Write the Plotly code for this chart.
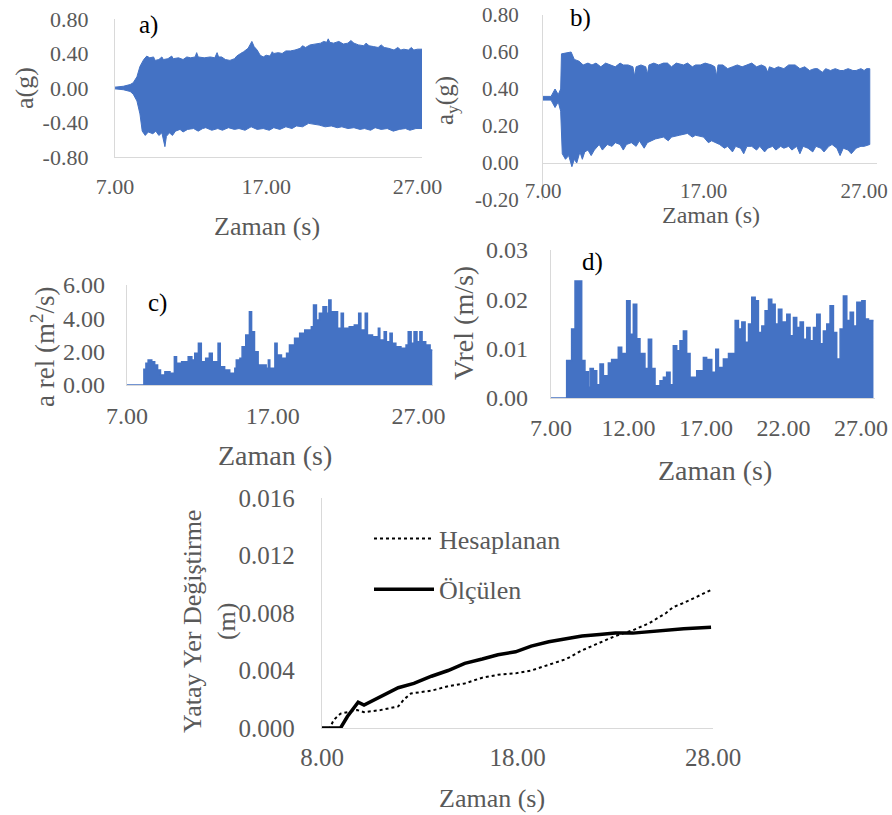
import plotly.graph_objects as go

W, H = 892, 815
BLUE = "#4472C4"
GRAY = "#595959"
AXIS = "#D9D9D9"
FONT = "Liberation Serif, Times New Roman, serif"

# ---------------- a) horizontal acceleration: upper / lower envelope (time s, g) ----------------
a_upper = [(7.0, 0.01), (7.55, 0.02), (8.0, 0.04), (8.2, 0.06), (8.45, 0.13), (8.65, 0.25),
           (8.9, 0.33), (9.1, 0.37), (9.3, 0.35), (9.55, 0.36), (9.65, 0.32), (9.9, 0.33),
           (10.1, 0.36), (10.2, 0.33), (10.5, 0.34), (10.75, 0.37), (10.85, 0.34), (11.2, 0.35),
           (11.5, 0.33), (11.75, 0.36), (12.0, 0.35), (12.3, 0.36), (12.4, 0.41), (12.5, 0.36),
           (12.9, 0.35), (13.3, 0.36), (13.6, 0.35), (13.75, 0.41), (13.85, 0.36), (14.05, 0.36),
           (14.3, 0.33), (14.6, 0.32), (14.9, 0.34), (15.05, 0.37), (15.3, 0.40), (15.5, 0.42),
           (15.8, 0.46), (15.95, 0.50), (16.05, 0.54), (16.2, 0.48), (16.4, 0.44), (16.6, 0.38),
           (16.8, 0.36), (17.0, 0.38), (17.25, 0.37), (17.4, 0.42), (17.5, 0.40), (17.8, 0.41),
           (18.05, 0.40), (18.3, 0.43), (18.6, 0.43), (18.9, 0.44), (19.25, 0.46), (19.4, 0.49),
           (19.6, 0.47), (19.9, 0.50), (20.2, 0.51), (20.6, 0.52), (20.8, 0.54), (21.0, 0.53),
           (21.1, 0.57), (21.2, 0.53), (21.45, 0.52), (21.8, 0.54), (22.1, 0.51), (22.4, 0.52),
           (22.6, 0.55), (22.8, 0.52), (23.1, 0.50), (23.45, 0.49), (23.6, 0.52), (23.8, 0.49),
           (24.1, 0.48), (24.4, 0.47), (24.6, 0.50), (24.8, 0.47), (25.1, 0.46), (25.45, 0.44),
           (25.7, 0.47), (25.9, 0.44), (26.1, 0.45), (26.4, 0.44), (26.6, 0.47), (26.75, 0.44),
           (27.0, 0.45), (27.3, 0.45)]
a_lower = [(7.0, -0.01), (7.55, -0.02), (8.0, -0.04), (8.2, -0.07), (8.45, -0.15), (8.65, -0.30),
           (8.8, -0.50), (9.0, -0.55), (9.2, -0.51), (9.5, -0.53), (9.7, -0.50), (9.9, -0.55),
           (10.1, -0.52), (10.2, -0.60), (10.3, -0.68), (10.4, -0.56), (10.6, -0.52), (10.8, -0.55),
           (11.0, -0.50), (11.3, -0.48), (11.5, -0.51), (11.8, -0.48), (12.2, -0.47), (12.5, -0.50),
           (12.8, -0.47), (13.0, -0.46), (13.4, -0.49), (13.8, -0.47), (14.1, -0.49), (14.5, -0.46),
           (14.9, -0.48), (15.2, -0.47), (15.6, -0.49), (16.0, -0.45), (16.4, -0.48), (16.8, -0.47),
           (17.2, -0.49), (17.5, -0.46), (17.9, -0.48), (18.3, -0.45), (18.7, -0.47), (19.0, -0.44),
           (19.4, -0.45), (19.8, -0.41), (20.2, -0.42), (20.5, -0.43), (20.9, -0.45), (21.3, -0.44),
           (21.7, -0.46), (22.0, -0.45), (22.4, -0.47), (22.8, -0.46), (23.2, -0.48), (23.5, -0.47),
           (23.9, -0.49), (24.2, -0.46), (24.6, -0.48), (25.0, -0.47), (25.4, -0.50), (25.8, -0.48),
           (26.2, -0.47), (26.5, -0.49), (26.9, -0.47), (27.3, -0.47)]

# ---------------- b) vertical acceleration: upper / lower envelope (time s, g) ----------------
b_upper = [(7.0, 0.36), (7.5, 0.36), (7.75, 0.40), (7.95, 0.37), (8.1, 0.40), (8.15, 0.59),
           (8.75, 0.60), (8.95, 0.56), (9.25, 0.55), (9.5, 0.53), (9.8, 0.54), (10.05, 0.53),
           (10.3, 0.54), (10.6, 0.52), (10.9, 0.54), (11.2, 0.53), (11.5, 0.52), (11.8, 0.54),
           (12.0, 0.53), (12.3, 0.53), (12.6, 0.52), (12.7, 0.47), (12.8, 0.52), (13.1, 0.53),
           (13.4, 0.52), (13.5, 0.48), (13.6, 0.53), (13.9, 0.54), (14.2, 0.53), (14.5, 0.54),
           (14.75, 0.54), (15.0, 0.52), (15.3, 0.54), (15.75, 0.53), (16.0, 0.54), (16.3, 0.52),
           (16.5, 0.53), (16.8, 0.53), (17.1, 0.54), (17.5, 0.53), (17.7, 0.52), (17.8, 0.47),
           (17.9, 0.53), (18.2, 0.53), (18.5, 0.51), (18.8, 0.52), (19.1, 0.53), (19.4, 0.52),
           (19.7, 0.53), (20.0, 0.54), (20.3, 0.52), (20.6, 0.53), (20.85, 0.52), (21.0, 0.49),
           (21.1, 0.52), (21.4, 0.51), (21.65, 0.52), (22.0, 0.51), (22.3, 0.53), (22.7, 0.53),
           (23.0, 0.51), (23.3, 0.52), (23.6, 0.50), (23.9, 0.51), (24.1, 0.51), (24.4, 0.49),
           (24.6, 0.51), (24.9, 0.50), (25.2, 0.51), (25.5, 0.50), (25.7, 0.50), (26.0, 0.51),
           (26.3, 0.50), (26.5, 0.50), (26.8, 0.51), (27.0, 0.50), (27.15, 0.51), (27.35, 0.51)]
b_lower = [(7.0, 0.34), (7.5, 0.34), (7.75, 0.30), (7.95, 0.33), (8.1, 0.28), (8.2, 0.05),
           (8.4, 0.02), (8.6, 0.04), (8.8, -0.02), (8.95, 0.02), (9.1, 0.00), (9.3, 0.06),
           (9.45, 0.02), (9.6, 0.06), (9.8, 0.07), (10.0, 0.04), (10.2, 0.07), (10.5, 0.10),
           (10.7, 0.07), (11.0, 0.10), (11.3, 0.09), (11.5, 0.11), (11.8, 0.10), (12.0, 0.07),
           (12.2, 0.10), (12.5, 0.11), (12.8, 0.09), (13.0, 0.12), (13.3, 0.08), (13.5, 0.11),
           (14.0, 0.13), (14.5, 0.14), (14.8, 0.12), (15.0, 0.14), (15.5, 0.15), (16.0, 0.16),
           (16.3, 0.14), (16.5, 0.15), (17.0, 0.14), (17.3, 0.11), (17.5, 0.12), (18.0, 0.10),
           (18.3, 0.08), (18.5, 0.09), (18.8, 0.06), (19.0, 0.09), (19.3, 0.08), (19.5, 0.05),
           (19.7, 0.09), (20.0, 0.09), (20.3, 0.07), (20.5, 0.09), (20.8, 0.06), (21.0, 0.08),
           (21.3, 0.09), (21.5, 0.07), (21.8, 0.09), (22.0, 0.08), (22.3, 0.09), (22.5, 0.07),
           (22.8, 0.09), (23.0, 0.05), (23.2, 0.09), (23.5, 0.08), (23.8, 0.06), (24.0, 0.09),
           (24.3, 0.08), (24.5, 0.06), (24.8, 0.09), (25.0, 0.10), (25.3, 0.08), (25.5, 0.04),
           (25.7, 0.08), (26.0, 0.07), (26.2, 0.05), (26.5, 0.08), (26.8, 0.09), (27.0, 0.09),
           (27.35, 0.10)]

# ---------------- c) relative acceleration ----------------
c_t = [7.0, 8.16, 8.3, 8.45, 8.7, 8.9, 9.1, 9.3, 9.6, 9.95, 10.25, 10.4, 10.75, 11.1, 11.2, 11.45,
       11.65, 11.9, 12.1, 12.4, 12.65, 12.85, 13.25, 13.4, 13.7, 14.05, 14.4, 14.5, 14.75, 14.9,
       15.15, 15.4, 15.55, 15.75, 16.0, 16.55, 16.7, 16.8, 17.15, 17.3, 17.6, 17.95, 18.15, 18.5,
       18.85, 19.2, 19.65, 19.8, 20.0, 20.2, 20.45, 20.7, 20.85, 21.0, 21.3, 21.45, 21.7, 21.85,
       22.25, 22.6, 22.9, 23.05, 23.35, 23.5, 23.85, 24.25, 24.35, 24.65, 24.8, 25.05, 25.2,
       25.45, 25.8, 26.15, 26.3, 26.5, 26.7, 26.9, 27.1, 27.25, 27.5, 27.8, 27.95]
c_v = [0.0, 0.95, 1.3, 1.5, 1.4, 1.2, 0.9, 0.6, 0.8, 0.7, 1.7, 1.3, 1.4, 1.3, 1.7, 1.5,
       1.9, 2.5, 1.4, 1.6, 1.9, 1.4, 2.5, 1.1, 0.9, 0.7, 1.0, 1.5, 1.6, 2.3,
       3.0, 4.4, 3.2, 2.0, 1.2, 1.0, 1.5, 1.0, 2.5, 1.8, 1.6, 1.9, 2.4, 2.8,
       3.1, 3.3, 3.5, 4.8, 3.9, 4.3, 4.7, 4.3, 5.1, 4.4, 4.4, 3.4, 4.3, 3.4,
       3.5, 3.6, 4.3, 3.3, 4.3, 3.0, 2.9, 3.4, 2.7, 3.2, 2.6, 3.1, 2.5,
       2.3, 2.2, 2.4, 3.2, 2.5, 3.2, 2.6, 3.2, 2.6, 2.4, 2.1, 2.1]

# ---------------- d) relative velocity ----------------
d_t = [7.0, 8.01, 8.33, 8.55, 8.98, 9.19, 9.41, 9.52, 9.73, 9.95, 10.16, 10.38, 10.7, 10.91, 11.34,
       11.56, 11.88, 12.1, 12.31, 12.53, 12.74, 13.06, 13.28, 13.49, 13.71, 14.03, 14.25, 14.46,
       14.68, 14.89, 15.11, 15.32, 15.54, 15.75, 15.97, 16.4, 16.83, 17.04, 17.37, 17.63, 17.8,
       18.12, 18.45, 18.88, 19.09, 19.31, 19.52, 19.74, 19.95, 20.17, 20.38, 20.6, 20.81, 21.03,
       21.24, 21.46, 21.67, 21.89, 22.21, 22.42, 22.64, 22.85, 23.07, 23.28, 23.5, 23.71, 23.93,
       24.14, 24.36, 24.57, 24.79, 25.0, 25.22, 25.43, 25.65, 25.86, 26.08, 26.3, 26.51, 26.73,
       27.05, 27.26, 27.48, 27.8]
d_v = [0.0, 0.0076, 0.014, 0.0237, 0.0076, 0.0053, 0.0022, 0.006, 0.0055, 0.0027, 0.0069, 0.0045,
       0.0071, 0.0078, 0.0103, 0.009, 0.0197, 0.0129, 0.019, 0.012, 0.009, 0.006, 0.0119, 0.006,
       0.0025, 0.0035, 0.0042, 0.0052, 0.0027, 0.0106, 0.0096, 0.0116, 0.0136, 0.009, 0.0042,
       0.0055, 0.0082, 0.0078, 0.0052, 0.0099, 0.0062, 0.0079, 0.009, 0.0157, 0.014, 0.0154,
       0.0113, 0.015, 0.0204, 0.0197, 0.0133, 0.0146, 0.0177, 0.02, 0.019, 0.015, 0.018, 0.0154,
       0.017, 0.0126, 0.0163, 0.0143, 0.0154, 0.0119, 0.0143, 0.0116, 0.0143, 0.017, 0.011,
       0.0136, 0.015, 0.0187, 0.0133, 0.0079, 0.014, 0.0207, 0.0157, 0.0174, 0.0146, 0.0194,
       0.0197, 0.016, 0.0157, 0.0157]

# ---------------- e) horizontal displacement ----------------
e_t_olc = [8.0, 8.95, 9.3, 9.7, 9.85, 10.15, 11.0, 11.9, 12.7, 13.6, 14.45, 15.3, 16.2, 17.0,
           17.9, 18.7, 19.6, 20.5, 21.3, 22.2, 23.0, 23.9, 24.75, 25.6, 26.5, 27.9]
e_olc = [0.0, 0.0, 0.0008, 0.0016, 0.0018, 0.0016, 0.0022, 0.0028, 0.0031, 0.0036, 0.0040,
         0.0045, 0.0048, 0.0051, 0.0053, 0.0057, 0.0060, 0.0062, 0.0064, 0.0065, 0.0066,
         0.0066, 0.0067, 0.0068, 0.0069, 0.0070]
e_t_hes = [8.0, 8.4, 8.6, 8.95, 9.3, 9.8, 10.15, 11.0, 11.9, 12.2, 12.55, 13.6, 14.45, 15.3, 16.2,
           17.0, 17.9, 18.7, 19.6, 20.5, 21.3, 22.2, 23.0, 23.9, 24.75, 25.6, 25.95, 26.5, 27.9]
e_hes = [0.0, 0.0, 0.00056, 0.0010, 0.0011, 0.00125, 0.0011, 0.00125, 0.0015, 0.0020, 0.0024,
         0.0026, 0.0029, 0.0031, 0.0035, 0.0037, 0.0038, 0.0040, 0.0044, 0.0048, 0.0054, 0.0059,
         0.0064, 0.0068, 0.0073, 0.0080, 0.0084, 0.0087, 0.0096]

# ---------------- tick labels ----------------
a_yticks = [-0.8, -0.4, 0.0, 0.4, 0.8]
a_ytext = ["-0.80", "-0.40", "0.00", "0.40", "0.80"]
b_yticks = [-0.2, 0.0, 0.2, 0.4, 0.6, 0.8]
b_ytext = ["-0.20", "0.00", "0.20", "0.40", "0.60", "0.80"]
c_yticks = [0, 2, 4, 6]
c_ytext = ["0.00", "2.00", "4.00", "6.00"]
d_yticks = [0, 0.01, 0.02, 0.03]
d_ytext = ["0.00", "0.01", "0.02", "0.03"]
e_yticks = [0, 0.004, 0.008, 0.012, 0.016]
e_ytext = ["0.000", "0.004", "0.008", "0.012", "0.016"]
abc_xticks = [7, 17, 27]
abc_xtext = ["7.00", "17.00", "27.00"]
d_xticks = [7, 12, 17, 22, 27]
d_xtext = ["7.00", "12.00", "17.00", "22.00", "27.00"]
e_xticks = [8, 18, 28]
e_xtext = ["8.00", "18.00", "28.00"]


def px(x):
    return x / W


def py(y):
    return 1 - y / H


def band(upper, lower):
    """closed polygon: upper edge left->right, lower edge right->left"""
    xs = [t for t, _ in upper] + [t for t, _ in lower[::-1]]
    ys = [v for _, v in upper] + [v for _, v in lower[::-1]]
    return xs, ys


fig = go.Figure()

ax_, ay_ = band(a_upper, a_lower)
fig.add_trace(go.Scatter(x=ax_, y=ay_, fill="toself", fillcolor=BLUE,
                         line=dict(color=BLUE, width=1), mode="lines",
                         showlegend=False, xaxis="x", yaxis="y", hoverinfo="skip"))
bx_, by_ = band(b_upper, b_lower)
fig.add_trace(go.Scatter(x=bx_, y=by_, fill="toself", fillcolor=BLUE,
                         line=dict(color=BLUE, width=1), mode="lines",
                         showlegend=False, xaxis="x2", yaxis="y2", hoverinfo="skip"))
fig.add_trace(go.Scatter(x=c_t, y=c_v, fill="tozeroy", fillcolor=BLUE, line_shape="hv",
                         line=dict(color=BLUE, width=1.5), mode="lines",
                         showlegend=False, xaxis="x3", yaxis="y3"))
fig.add_trace(go.Scatter(x=d_t, y=d_v, fill="tozeroy", fillcolor=BLUE, line_shape="hv",
                         line=dict(color=BLUE, width=1.5), mode="lines",
                         showlegend=False, xaxis="x4", yaxis="y4"))
fig.add_trace(go.Scatter(x=e_t_hes, y=e_hes, mode="lines", name="Hesaplanan",
                         line=dict(color="black", width=2, dash="dot"), legendgroup="h",
                         xaxis="x5", yaxis="y5"))
fig.add_trace(go.Scatter(x=e_t_olc, y=e_olc, mode="lines", name="Ölçülen",
                         line=dict(color="black", width=3.5), legendgroup="o",
                         xaxis="x5", yaxis="y5"))


def xax(x0, x1, anchor, rng, tv, tt, standoff, size, showline=True):
    return dict(domain=[px(x0), px(x1)], anchor=anchor, range=rng, tickmode="array",
                tickvals=tv, ticktext=tt, showgrid=False, zeroline=False, showline=showline,
                linecolor=AXIS, linewidth=1.3, ticks="",
                tickfont=dict(family=FONT, size=size, color=GRAY), automargin=False,
                ticklabelstandoff=standoff, ticklabeloverflow="allow", fixedrange=True)


def yax(y0, y1, anchor, rng, tv, tt, standoff, size, zeroline=False):
    return dict(domain=[py(y1), py(y0)], anchor=anchor, range=rng, tickmode="array",
                tickvals=tv, ticktext=tt, showgrid=False, zeroline=zeroline,
                zerolinecolor=AXIS, zerolinewidth=1.3, showline=True, automargin=False,
                linecolor=AXIS, linewidth=1.3, ticks="",
                tickfont=dict(family=FONT, size=size, color=GRAY),
                ticklabelstandoff=standoff, ticklabeloverflow="allow", fixedrange=True)


layout = dict(
    width=W, height=H, margin=dict(l=0, r=0, t=0, b=0, autoexpand=False),
    paper_bgcolor="white", plot_bgcolor="white",
    font=dict(family=FONT, size=22, color=GRAY),
    xaxis=xax(115, 422, "y", [7, 27.3], abc_xticks, abc_xtext, 9, 22),
    yaxis=yax(19, 157, "x", [-0.8, 0.8], a_yticks, a_ytext, 21, 22),
    xaxis2=xax(543, 877, "y2", [7, 27.8], abc_xticks, abc_xtext, -24, 21, showline=False),
    yaxis2=yax(15, 200, "x2", [-0.2, 0.8], b_yticks, b_ytext, 19, 21, zeroline=True),
    xaxis3=xax(127, 433, "y3", [7, 28.0], abc_xticks, abc_xtext, 9, 24),
    yaxis3=yax(285, 385, "x3", [0, 6], c_yticks, c_ytext, 16, 24),
    xaxis4=xax(551, 875, "y4", [7, 27.9], d_xticks, d_xtext, 8, 24),
    yaxis4=yax(250, 398, "x4", [0, 0.03], d_yticks, d_ytext, 17, 24),
    xaxis5=xax(322, 713, "y5", [8, 28.0], e_xticks, e_xtext, 7, 25),
    yaxis5=yax(498, 728, "x5", [0, 0.016], e_yticks, e_ytext, 21, 25),
    showlegend=True,
    legend=dict(x=px(369), y=py(515), xanchor="left", yanchor="top", itemwidth=60,
                font=dict(family=FONT, size=26, color=GRAY), bgcolor="rgba(0,0,0,0)",
                traceorder="grouped", tracegroupgap=14),
)

ann = []


def text(x, y, s, angle=0, color=GRAY, size=26):
    ann.append(dict(x=px(x), y=py(y), xref="paper", yref="paper", text=s, showarrow=False,
                    textangle=angle, xanchor="center", yanchor="middle",
                    font=dict(family=FONT, size=size, color=color)))


# axis titles
text(24, 88, "a(g)", -90, size=26)
text(447, 100, "a<sub>y</sub>(g)", -90, size=25)
text(43, 347, "a rel (m<sup>2</sup>/s)", -90, size=27)
text(464, 323, "Vrel (m/s)", -90, size=28)
text(209, 622, "Yatay Yer Değiştirme<br>(m)", -90, size=26)
text(267, 227, "Zaman (s)", size=26)
text(711, 215, "Zaman (s)", size=24)
text(275, 455, "Zaman (s)", size=28)
text(715, 470, "Zaman (s)", size=28)
text(492, 798, "Zaman (s)", size=26)
# panel labels
text(148, 25, "a)", color="black", size=25)
text(580, 18, "b)", color="black", size=25)
text(157, 303, "c)", color="black", size=25)
text(592, 262, "d)", color="black", size=25)

layout["annotations"] = ann
fig.update_layout(**layout)
fig.write_html("out.html")
